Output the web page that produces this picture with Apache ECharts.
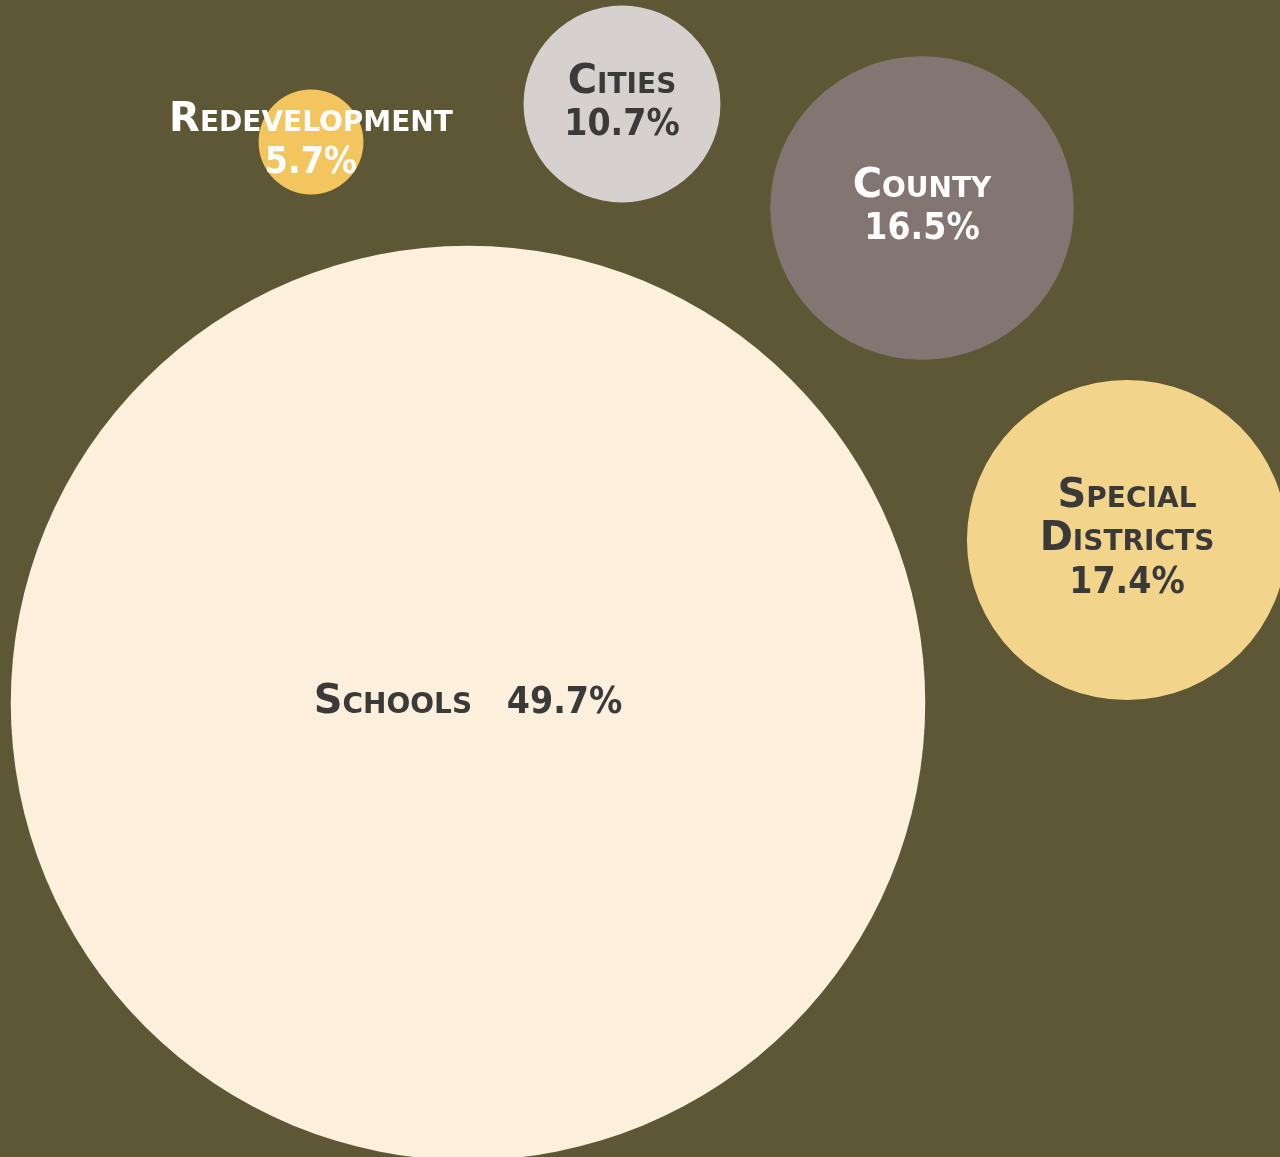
<!DOCTYPE html>
<html>
<head>
<meta charset="utf-8">
<script src="https://cdn.jsdelivr.net/npm/echarts@6/dist/echarts.min.js"></script>
<style>
  html, body { margin: 0; padding: 0; background: #5d5736; }
  #chart { width: 1280px; height: 1157px; }
</style>
</head>
<body>
<div id="chart"></div>
<script>
// bubble data: share of the tax dollar by recipient
const names = ["Schools", "Special\nDistricts", "County", "Cities", "Redevelopment"]
const shares = [49.7, 17.4, 16.5, 10.7, 5.7]
// bubble centres on a hidden 1280 x 1157 plane
const xPos = [468, 1127, 922, 622, 311]
const yPos = [703, 540, 208, 104, 142]
const colors = ["#fcefdb", "#f3d48b", "#827572", "#d6d1cf", "#f2c55e"]
const labelColors = ["#3a3a3a", "#3a3a3a", "#ffffff", "#3a3a3a", "#ffffff"]

const chart = echarts.init(document.getElementById("chart"))

const seriesData = names.map((name, i) => ({
  name: name,
  value: [xPos[i], yPos[i], shares[i]],
  itemStyle: { color: colors[i], opacity: 1 },
  label: {
    color: labelColors[i],
    // schools label sits on one line
    formatter: i === 0
      ? "{n|" + name + "}{v|   " + shares[i] + "%}"
      : "{n|" + name.replace("\n", "}\n{n|") + "}\n{v|" + shares[i] + "%}",
    rich: {
      n: { fontSize: 40, fontWeight: "bold", fontStyle: "small-caps", color: labelColors[i], lineHeight: 43, fontFamily: "DejaVu Sans" },
      v: { fontSize: 37, fontWeight: "bold", color: labelColors[i], lineHeight: 43, fontFamily: "DejaVu Sans Condensed" },
    },
  },
}))

const option = {
  backgroundColor: "#5d5736",
  animation: false,
  grid: { left: 0, right: 0, top: 0, bottom: 0 },
  xAxis: { type: "value", min: 0, max: 1280, show: false },
  yAxis: { type: "value", min: 0, max: 1157, inverse: true, show: false },
  series: [
    {
      type: "scatter",
      data: seriesData,
      // radius grows linearly with the share
      symbolSize: (val) => val[2] * 18.4,
      label: { show: true, position: "inside", align: "center" },
      emphasis: { disabled: true },
    },
  ],
}

chart.setOption(option)
window.addEventListener("resize", () => chart.resize())
</script>
</body>
</html>
